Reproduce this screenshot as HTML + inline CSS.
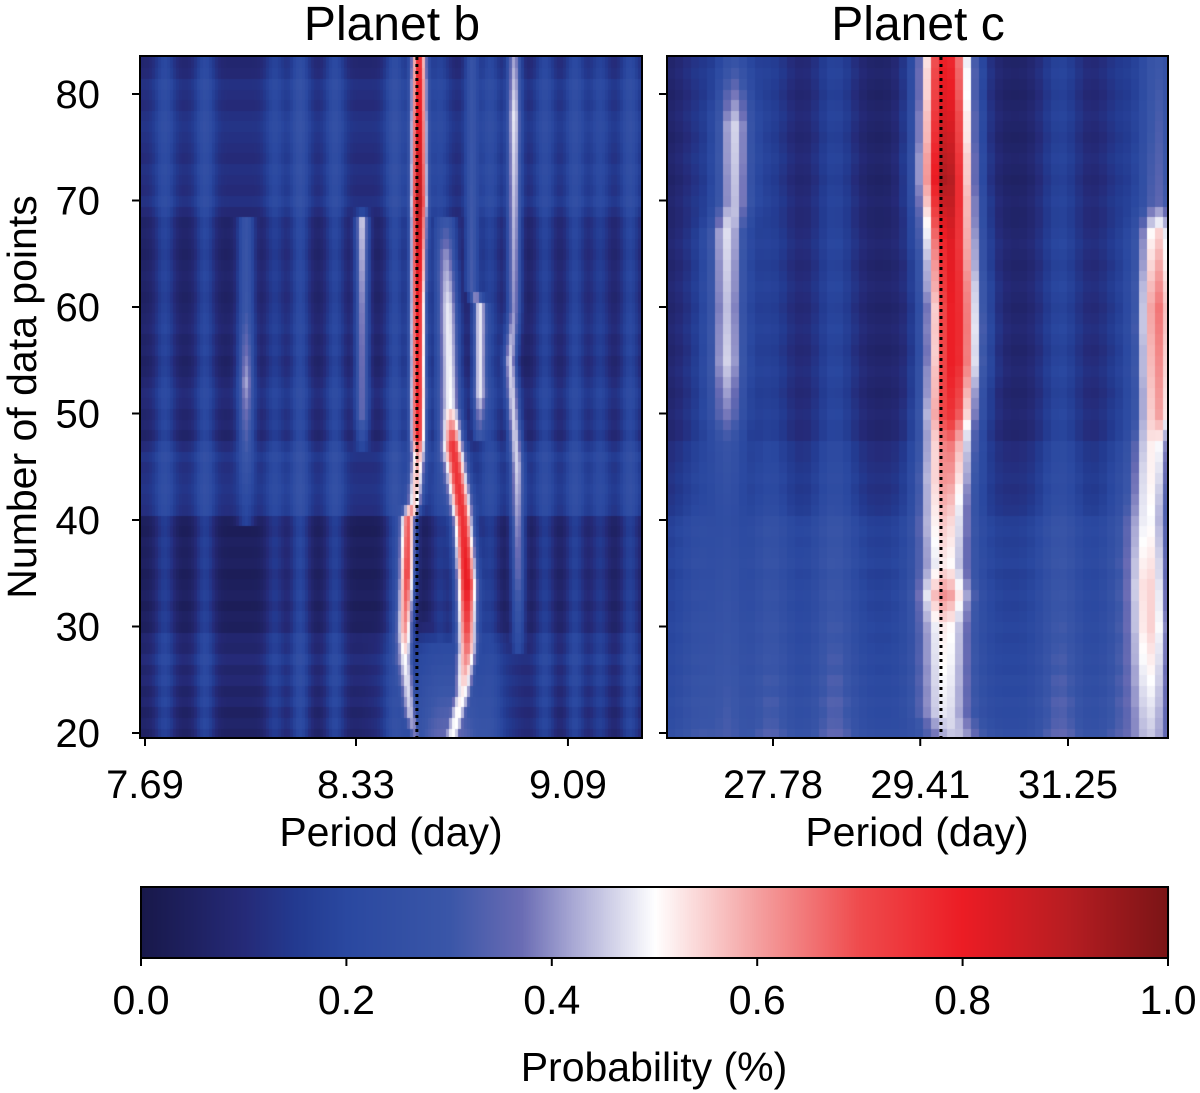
<!DOCTYPE html>
<html><head><meta charset="utf-8">
<style>
body{margin:0;background:#fff;}
#wrap{position:relative;width:1200px;height:1093px;overflow:hidden;font-family:"Liberation Sans",sans-serif;color:#111;}
canvas{position:absolute;left:0;top:0;}
svg{position:absolute;left:0;top:0;}
</style></head>
<body>
<div id="wrap">
<canvas id="cv" width="1200" height="1093"></canvas>
<svg id="sv" width="1200" height="1093"></svg>
</div>
<script>
// ---- data ----
const rowsN = []; for (let n = 20; n <= 83; n++) rowsN.push(n);
const yTicks = [20,30,40,50,60,70,80];
const xTicksB = [7.69, 8.33, 9.09];
const xTicksC = [27.78, 29.41, 31.25];
const cbTicks = [0.0,0.2,0.4,0.6,0.8,1.0];
const knownPeriodB = 8.535;
const knownPeriodC = 29.655;
const rowBaseB = [0.05,0.07,0.05,0.08,0.06,0.09,0.07,0.10,0.07,0.08,
 0.04,0.05,0.03,0.05,0.04,0.03,0.05,0.04,0.05,0.03,0.04,
 0.11,0.12,0.13,0.12,0.11,0.13,0.10,
 0.06,0.08,0.07,0.09,0.10,0.08,0.06,0.05,0.07,0.06,0.08,0.07,0.06,0.05,0.06,0.07,0.06,0.05,0.06,0.07,0.06,
 0.09,0.12,0.10,0.11,0.12,0.10,0.11,0.12,0.13,0.12,0.10,0.11,0.12,0.09,0.08];
const rowBaseC = [0.24,0.22,0.21,0.22,0.20,0.21,0.19,0.20,0.19,0.18,
 0.19,0.18,0.17,0.18,0.17,0.16,0.18,0.17,0.16,0.17,0.16,
 0.13,0.12,0.11,0.12,0.11,0.10,0.10,
 0.07,0.07,0.08,0.07,0.06,0.07,0.08,0.07,0.06,0.07,0.08,0.07,0.06,0.07,0.08,0.07,0.06,0.07,0.08,0.07,0.06,
 0.06,0.07,0.06,0.05,0.06,0.07,0.06,0.05,0.06,0.07,0.06,0.05,0.06,0.07,0.06];
const stripesB = [[7.746,0.12],[7.862,0.13],[8.072,0.1],[8.150,0.15],[8.262,0.13],[8.460,0.15],[8.615,0.1],[8.795,0.12],[9.001,0.12],[9.118,0.13],[9.217,0.1],[9.339,0.13]];
const stripesC = [[27.04,0.07],[27.75,0.1],[28.44,0.12],[31.15,0.12],[31.95,0.08]];
// ridges: keyframes [N, period, probability]
const ridgeB1 = [[83,8.542,0.78],[70,8.542,0.92],[60,8.539,0.8],[48,8.539,0.78],[46,8.539,0.6],[42,8.528,0.55],[40,8.504,0.68],[35,8.501,0.72],[30,8.494,0.62],[27,8.494,0.5],[22,8.511,0.45],[20,8.528,0.38]];
const ridgeB2 = [[68,8.637,0.3],[65,8.637,0.4],[60,8.644,0.48],[51,8.651,0.5],[47,8.661,0.75],[40,8.697,0.76],[34,8.711,0.82],[28,8.711,0.66],[24,8.697,0.52],[20,8.661,0.5]];
const ridgeB3 = [[83,8.729,0.28],[62,8.729,0.32],[60,8.758,0.48],[52,8.758,0.48],[48,8.758,0.3]];
const ridgeB4 = [[83,8.884,0.42],[78,8.884,0.48],[60,8.884,0.4],[55,8.869,0.46],[45,8.895,0.46],[35,8.899,0.36],[28,8.899,0.22]];
const ridgeB5 = [[69,8.350,0.2],[68,8.350,0.46],[60,8.350,0.4],[50,8.350,0.36],[47,8.350,0.2]];
const ridgeB6 = [[68,7.984,0.28],[60,7.984,0.3],[53,7.984,0.42],[45,7.984,0.28],[40,7.984,0.18]];
const ridgeB7 = [[30,8.650,0.1],[28,8.650,0.22],[24,8.650,0.3],[20,8.650,0.36]];
const ridgeC1 = [[83,29.715,0.8],[78,29.715,0.85],[72,29.715,0.93],[66,29.76,0.82],[60,29.80,0.8],[55,29.80,0.8],[50,29.76,0.75],[47,29.74,0.65],[44,29.72,0.62],[40,29.70,0.56],[36,29.70,0.52],[33,29.70,0.62],[30,29.70,0.52],[26,29.70,0.5],[22,29.70,0.48],[20,29.80,0.45]];
const ridgeC2 = [[83,27.38,0.28],[80,27.38,0.38],[77,27.38,0.46],[70,27.38,0.44],[67,27.31,0.47],[60,27.31,0.44],[55,27.31,0.46],[50,27.31,0.38],[47,27.31,0.28],[40,27.31,0.24],[30,27.31,0.28],[20,27.31,0.32]];
const ridgeC3 = [[83,32.49,0.3],[70,32.49,0.35],[67,32.49,0.55],[60,32.49,0.65],[50,32.49,0.6],[47,32.42,0.52],[40,32.35,0.5],[34,32.35,0.55],[30,32.37,0.55],[25,32.37,0.5],[20,32.37,0.45]];

// ---- rendering constants ----
const sigB = [5.5, 7.5, 5, 5, 5, 6, 38];
const sigC = [20, 14, 16];
const cmapStops = [[0,[24,24,74]],[0.1,[37,42,120]],[0.15,[35,58,144]],[0.2,[42,72,160]],[0.3,[58,86,168]],[0.37,[106,108,180]],[0.42,[168,168,212]],[0.5,[255,255,255]],[0.6,[244,160,160]],[0.7,[239,74,76]],[0.8,[236,28,36]],[0.9,[184,29,34]],[1.0,[122,20,22]]];
function cmap(v){v=Math.max(0,Math.min(1,v));for(let i=1;i<cmapStops.length;i++){if(v<=cmapStops[i][0]){const a=cmapStops[i-1],b=cmapStops[i],t=(v-a[0])/(b[0]-a[0]);return 'rgb('+[0,1,2].map(k=>Math.round(a[1][k]+(b[1][k]-a[1][k])*t)).join(',')+')';}}return 'rgb(122,20,22)';}
const yScale = n => 733 - (n-20)*10.65;
const xScaleB = p => 145 + (1/7.69 - 1/p)*21118;
const xScaleC = p => 773 + (1/27.78 - 1/p)*73806;
function kf(r,n){ if(n>r[0][0]||n<r[r.length-1][0]) return null;
 for(let i=1;i<r.length;i++){ if(n>=r[i][0]){const a=r[i-1],b=r[i],t=(a[0]-n)/(a[0]-b[0]||1);return [a[1]+(b[1]-a[1])*t,a[2]+(b[2]-a[2])*t];}} return null;}

const cv=document.getElementById('cv'),ctx=cv.getContext('2d');
function drawPanel(x0,x1,step,xs,rowBase,stripes,ridges,sigs,stripeSig){
 rowsN.forEach((n,ri)=>{
  const yt=yScale(n+0.5),yb=yScale(n-0.5);
  const rp=ridges.map(r=>kf(r,n));
  for(let x=x0;x<x1;x+=step){
   const cx=x+step/2;
   let v=rowBase[ri];
   stripes.forEach(s=>{const d=cx-xs(s[0]);v+=s[1]*Math.exp(-d*d/(2*stripeSig*stripeSig));});
   let best=v;
   rp.forEach((q,i)=>{if(!q)return;const d=cx-xs(q[0]);const g=Math.exp(-d*d/(2*sigs[i]*sigs[i]));const w=v+(q[1]-v)*g;if(w>best)best=w;});
   ctx.fillStyle=cmap(best);
   ctx.fillRect(x,Math.floor(yt),step+0.5,Math.ceil(yb-yt)+1);
  }
 });
}
ctx.save();ctx.beginPath();ctx.rect(140,56,502,682);ctx.clip();
drawPanel(140,642,3,xScaleB,rowBaseB,stripesB,[ridgeB1,ridgeB2,ridgeB3,ridgeB4,ridgeB5,ridgeB6,ridgeB7],sigB,7);
ctx.restore();
ctx.save();ctx.beginPath();ctx.rect(667,56,501,682);ctx.clip();
drawPanel(667,1168,8,xScaleC,rowBaseC,stripesC,[ridgeC1,ridgeC2,ridgeC3],sigC,16);
ctx.restore();
// colorbar
for(let x=141;x<1168;x++){ctx.fillStyle=cmap((x-141)/1027);ctx.fillRect(x,887,1.5,71);}

// ---- svg overlay ----
const sv=document.getElementById('sv');const NS='http://www.w3.org/2000/svg';
function el(t,a,txt){const e=document.createElementNS(NS,t);for(const k in a)e.setAttribute(k,a[k]);if(txt!==undefined)e.textContent=txt;sv.appendChild(e);return e;}
let e;
e=el('rect',{x:140,y:56,width:502,height:682,fill:'none',stroke:'#000','stroke-width':2});


e=el('rect',{x:667,y:56,width:501,height:682,fill:'none',stroke:'#000','stroke-width':2});


e=el('rect',{x:141,y:887,width:1027,height:71,fill:'none',stroke:'#000','stroke-width':2});


e=el('line',{x1:xScaleB(knownPeriodB),x2:xScaleB(knownPeriodB),y1:57,y2:737,stroke:'#000','stroke-width':3,'stroke-dasharray':'3,4'});


e=el('line',{x1:xScaleC(knownPeriodC),x2:xScaleC(knownPeriodC),y1:57,y2:737,stroke:'#000','stroke-width':3,'stroke-dasharray':'3,4'});


yTicks.forEach(t=>{
 const y=yScale(t);
 e=el('line',{x1:132,x2:140,y1:y,y2:y,stroke:'#000','stroke-width':2});
 
 
 e=el('line',{x1:659,x2:667,y1:y,y2:y,stroke:'#000','stroke-width':2});
 
 
 e=el('text',{x:100,y:y+14,'text-anchor':'end','font-size':40},String(t));
 
 
});
xTicksB.forEach(t=>{const x=xScaleB(t);
 e=el('line',{x1:x,x2:x,y1:738,y2:746,stroke:'#000','stroke-width':2});
 
 
 e=el('text',{x:x,y:798,'text-anchor':'middle','font-size':40},t.toFixed(2));
 
 
});
xTicksC.forEach(t=>{const x=xScaleC(t);
 e=el('line',{x1:x,x2:x,y1:738,y2:746,stroke:'#000','stroke-width':2});
 
 
 e=el('text',{x:x,y:798,'text-anchor':'middle','font-size':40},t.toFixed(2));
 
 
});
cbTicks.forEach(t=>{const x=141+t*1027;
 e=el('line',{x1:x,x2:x,y1:958,y2:966,stroke:'#000','stroke-width':2});
 
 
 e=el('text',{x:x,y:1014,'text-anchor':'middle','font-size':41},t.toFixed(1));
 
 
});
e=el('text',{x:392,y:40,'text-anchor':'middle','font-size':48},'Planet b');


e=el('text',{x:918,y:40,'text-anchor':'middle','font-size':48},'Planet c');


e=el('text',{x:391,y:846,'text-anchor':'middle','font-size':41},'Period (day)');


e=el('text',{x:917,y:846,'text-anchor':'middle','font-size':41},'Period (day)');


e=el('text',{x:654,y:1081,'text-anchor':'middle','font-size':41},'Probability (%)');


e=el('text',{x:0,y:0,'text-anchor':'middle','font-size':41,transform:'translate(36,397) rotate(-90)'},'Number of data points');


</script>
</body></html>
